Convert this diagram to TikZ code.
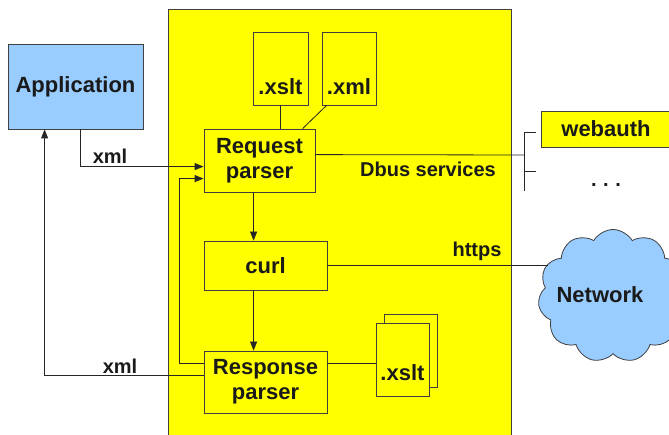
\documentclass[tikz,border=0pt]{standalone}
\usepackage{fontspec}
\setmainfont{Liberation Sans}
\usetikzlibrary{arrows.meta,shapes.symbols,calc}
\definecolor{ybox}{HTML}{FFFF00}
\definecolor{bbox}{HTML}{99CCFF}
\definecolor{edge}{HTML}{404040}
\definecolor{ink}{HTML}{1A1A1A}
\begin{document}
\begin{tikzpicture}[x=1pt,y=-1pt,
  box/.style={draw=edge,line width=0.8pt,fill=ybox,inner sep=0pt,text=ink,
    font=\fontsize{22}{25}\selectfont\bfseries,align=center},
  ftext/.style={inner sep=0pt,text=ink,font=\fontsize{22}{25}\selectfont\bfseries},
  lbl/.style={inner sep=0pt,text=ink,font=\fontsize{20}{22}\selectfont\bfseries},
  conn/.style={draw=black!85,line width=0.8pt},
  arr/.style={conn,-{Triangle[length=9pt,width=7pt]}}]
\useasboundingbox (0,0) rectangle (669,435);
% system area
\node[draw=edge,line width=0.8pt,fill=ybox,anchor=north west,inner sep=0pt,
  minimum width=343pt,minimum height=440pt] (sys) at (168,9) {};
% nodes
\node[box,fill=bbox,minimum width=135pt,minimum height=85pt] (app) at (75.5,86.5) {Application};
\node[box,minimum width=111pt,minimum height=63pt] (reqp) at (259.5,160.5) {Request\\parser};
\node[box,minimum width=55pt,minimum height=73pt] (xslta) at (280.5,68.5) {};
\node[ftext] (xsltat) at (280.5,87) {.xslt};
\node[box,minimum width=54pt,minimum height=73pt] (xmlb) at (349,68.5) {};
\node[ftext] (xmlbt) at (349,87) {.xml};
\node[box,minimum width=123pt,minimum height=49pt] (curl) at (265.5,265.5) {curl};
\node[box,minimum width=123pt,minimum height=62pt] (resp) at (265.5,382) {Response\\parser};
\node[box,minimum width=53pt,minimum height=73pt] (xsltb) at (410.5,350.5) {};
\node[box,minimum width=53pt,minimum height=73pt] (xsltf) at (402.5,359.5) {};
\node[ftext] (xsltft) at (402.5,373) {.xslt};
\node[box,minimum width=130pt,minimum height=36pt] (web) at (606,129) {webauth};
\node[lbl] (dots) at (606,185) {.\,\,.\,\,.};
\node[cloud,draw=edge,fill=bbox,line width=0.8pt,cloud puffs=11,cloud puff arc=120,
  aspect=1.15,minimum width=150pt,minimum height=133pt,inner sep=0pt] (net) at (613,296) {};
\node[ftext] (nett) at (600,295) {Network};
% labels
\node[lbl] (xml1) at (110,156) {xml};
\node[lbl] (xml2) at (120,366) {xml};
\node[lbl] (dbus) at (428,169) {Dbus services};
\node[lbl] (https) at (477,251) {https};
% connectors
\draw[arr] ($(app.south west)+(73,0)$) |- ($(reqp.north west)+(0,38)$);
\draw[arr] ($(resp.north west)+(0,13)$) -- ++(-24,0) |- ($(reqp.north west)+(0,50)$);
\draw[arr] ($(resp.north west)+(0,25)$) -| ($(app.south west)+(37,0)$);
\draw[arr] ($(reqp.south west)+(50,0)$) -- ($(curl.north west)+(50,0)$);
\draw[arr] ($(curl.south west)+(50,0)$) -- ($(resp.north west)+(50,0)$);
\draw[conn] (xslta.south) -- (xslta.south |- reqp.north);
\draw[conn] ($(xmlb.south west)+(5,0)$) -- ($(reqp.north west)+(99,0)$);
\coordinate (br) at (524,155);
\coordinate (bt) at (524,132);
\coordinate (bb) at (524,191);
\coordinate (t1) at (536,132);
\coordinate (tm) at (524,171);
\coordinate (t2) at (536,171);
\draw[conn] ($(reqp.north east)+(0,26)$) -- (br);
\draw[conn] (bt) -- (bb) (bt) -- (t1) (tm) -- (t2);
\coordinate (netin) at (548,265.5);
\draw[conn] (curl.east) -- (netin);
\draw[conn] ($(resp.north east)+(0,13)$) -- ($(xsltf.north west)+(0,41)$);
\end{tikzpicture}
\end{document}
